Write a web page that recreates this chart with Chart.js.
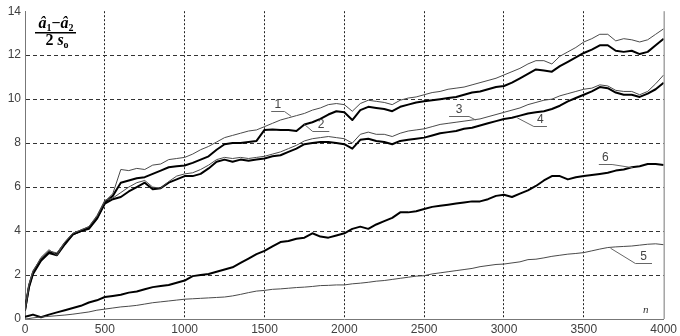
<!DOCTYPE html>
<html>
<head>
<meta charset="utf-8">
<script src="https://cdn.jsdelivr.net/npm/chart.js@4.4.1/dist/chart.umd.min.js"></script>
<style>
  html, body { margin: 0; padding: 0; background: #fff; }
  #plot { display: block; }
</style>
</head>
<body>
<canvas id="plot" width="680" height="336"></canvas>
<script>
// Sample positions along n (read every 50 steps off the reference)
const steps = [
  0, 25, 50, 100, 150, 200, 250, 300, 350, 400,
  450, 500, 550, 600, 650, 700, 750, 800, 850, 900,
  950, 1000, 1050, 1100, 1150, 1200, 1250, 1300, 1350, 1400,
  1450, 1500, 1550, 1600, 1650, 1700, 1750, 1800, 1850, 1900,
  1950, 2000, 2050, 2100, 2150, 2200, 2250, 2300, 2350, 2400,
  2450, 2500, 2550, 2600, 2650, 2700, 2750, 2800, 2850, 2900,
  2950, 3000, 3050, 3100, 3150, 3200, 3250, 3300, 3350, 3400,
  3450, 3500, 3550, 3600, 3650, 3700, 3750, 3800, 3850, 3900,
  3950, 4000
];

// Curve 1 (thin, top)
const curve1 = [
  0.4, 1.6, 2.2, 2.75, 3.1, 3.0, 3.5, 3.9, 4.05, 4.2,
  4.65, 5.35, 5.7, 6.8, 6.75, 6.85, 6.8, 7.0, 7.05, 7.25,
  7.3, 7.35, 7.5, 7.7, 7.85, 8.05, 8.25, 8.35, 8.45, 8.55,
  8.6, 8.75, 8.9, 9.05, 9.15, 9.25, 9.35, 9.5, 9.6, 9.75,
  9.8, 9.75, 9.45, 9.8, 9.95, 9.9, 9.85, 9.75, 9.95, 10.05,
  10.1, 10.2, 10.3, 10.35, 10.45, 10.5, 10.55, 10.65, 10.75, 10.85,
  10.95, 11.1, 11.25, 11.4, 11.6, 11.75, 11.75, 11.6, 11.95, 12.15,
  12.35, 12.6, 12.75, 12.95, 12.95, 12.65, 12.75, 12.7, 12.6, 12.7,
  12.95, 13.2
];

// Curve 2 (thick)
const curve2 = [
  0.4, 1.5, 2.1, 2.7, 3.05, 2.95, 3.45, 3.85, 4.0, 4.15,
  4.6, 5.3, 5.6, 6.2, 6.3, 6.4, 6.45, 6.6, 6.75, 6.9,
  6.95, 6.98, 7.1, 7.25, 7.4, 7.7, 7.95, 8.0, 8.0, 8.05,
  8.1, 8.6, 8.62, 8.6, 8.6, 8.55, 8.85, 8.95, 9.1, 9.3,
  9.45, 9.4, 9.05, 9.5, 9.65, 9.6, 9.55, 9.45, 9.65, 9.75,
  9.85, 9.9, 9.95, 10.0, 10.05, 10.1, 10.2, 10.3, 10.35, 10.45,
  10.55, 10.6, 10.75, 10.95, 11.15, 11.35, 11.3, 11.25, 11.5, 11.7,
  11.9, 12.1, 12.25, 12.45, 12.45, 12.2, 12.15, 12.2, 12.05, 12.15,
  12.45, 12.75
];

// Curve 3 (thin)
const curve3 = [
  0.4, 1.55, 2.15, 2.8, 3.15, 2.9, 3.5, 3.9, 4.05, 4.2,
  4.7, 5.4, 5.5, 5.75, 6.0, 6.2, 6.3, 6.0, 5.95, 6.25,
  6.5, 6.6, 6.65, 6.8, 7.0, 7.25, 7.35, 7.3, 7.35, 7.3,
  7.35, 7.4, 7.5, 7.6, 7.75, 7.9, 8.1, 8.2, 8.25, 8.3,
  8.25, 8.2, 8.0, 8.4, 8.5, 8.4, 8.4, 8.3, 8.45, 8.55,
  8.6, 8.65, 8.75, 8.85, 8.9, 8.95, 9.0, 9.05, 9.1, 9.2,
  9.3, 9.4, 9.5, 9.6, 9.75, 9.85, 9.95, 10.0, 10.15, 10.25,
  10.35, 10.45, 10.5, 10.65, 10.6, 10.4, 10.35, 10.35, 10.2, 10.35,
  10.7, 11.1
];

// Curve 4 (thick)
const curve4 = [
  0.4, 1.45, 2.05, 2.65, 3.0, 2.9, 3.4, 3.85, 4.0, 4.1,
  4.55, 5.25, 5.45, 5.55, 5.8, 6.0, 6.2, 5.9, 5.95, 6.2,
  6.35, 6.5, 6.5, 6.6, 6.85, 7.15, 7.25, 7.15, 7.25, 7.2,
  7.25, 7.3, 7.4, 7.45, 7.6, 7.75, 7.95, 8.0, 8.05, 8.05,
  8.0, 7.95, 7.75, 8.15, 8.2, 8.1, 8.05, 7.95, 8.1, 8.15,
  8.2, 8.25, 8.35, 8.45, 8.5, 8.55, 8.65, 8.7, 8.8, 8.9,
  9.0, 9.1, 9.15, 9.25, 9.35, 9.4, 9.45, 9.55, 9.7, 9.9,
  10.05, 10.2, 10.35, 10.55, 10.5, 10.3, 10.2, 10.2, 10.1, 10.25,
  10.45, 10.75
];

// Curve 5 (thin, bottom)
const curve5 = [
  0.0, 0.02, 0.05, 0.09, 0.12, 0.15, 0.18, 0.22, 0.27, 0.32,
  0.4, 0.45, 0.5, 0.55, 0.58, 0.62, 0.68, 0.74, 0.78, 0.82,
  0.86, 0.9, 0.92, 0.94, 0.96, 0.98, 1.0, 1.05, 1.12, 1.2,
  1.27, 1.3, 1.35, 1.37, 1.4, 1.43, 1.45, 1.48, 1.52, 1.53,
  1.55, 1.55, 1.6, 1.63, 1.67, 1.72, 1.75, 1.8, 1.85, 1.9,
  1.95, 1.97, 2.05, 2.1, 2.15, 2.2, 2.25, 2.3, 2.38, 2.43,
  2.48, 2.5, 2.55, 2.6, 2.7, 2.72, 2.78, 2.85, 2.9, 2.95,
  2.98, 3.02, 3.1, 3.18, 3.25, 3.28, 3.3, 3.32, 3.36, 3.4,
  3.42, 3.38
];

// Curve 6 (thick)
const curve6 = [
  0.1, 0.15, 0.2, 0.08, 0.2, 0.3, 0.4, 0.5, 0.6, 0.75,
  0.85, 1.0, 1.05, 1.1, 1.2, 1.25, 1.35, 1.45, 1.5, 1.55,
  1.65, 1.75, 1.95, 2.0, 2.05, 2.15, 2.25, 2.35, 2.55, 2.75,
  2.95, 3.1, 3.3, 3.5, 3.55, 3.65, 3.7, 3.9, 3.75, 3.7,
  3.8, 3.9, 4.1, 4.2, 4.1, 4.3, 4.45, 4.6, 4.85, 4.85,
  4.9, 5.0, 5.1, 5.15, 5.2, 5.25, 5.3, 5.35, 5.35, 5.45,
  5.6, 5.65, 5.55, 5.7, 5.85, 6.05, 6.3, 6.5, 6.5, 6.35,
  6.45, 6.5, 6.55, 6.6, 6.65, 6.75, 6.8, 6.9, 6.95, 7.05,
  7.05, 7.0
];

const xTicks = [0, 500, 1000, 1500, 2000, 2500, 3000, 3500, 4000];
const yTicks = [0, 2, 4, 6, 8, 10, 12, 14];

// Numbered callouts, in data units: underline from u1 to u2 at uy, leader to (px, py)
const callouts = [
  { text: '1', u1: 1542, u2: 1625, uy: 9.45, px: 1667, py: 9.22 },
  { text: '2', u1: 1802, u2: 1906, uy: 8.55, px: 1750, py: 8.85 },
  { text: '3', u1: 2656, u2: 2781, uy: 9.22, px: 2823, py: 9.05 },
  { text: '4', u1: 3187, u2: 3269, uy: 8.8,  px: 3083, py: 9.15 },
  { text: '6', u1: 3594, u2: 3677, uy: 7.03, px: 3806, py: 6.88 },
  { text: '5', u1: 3823, u2: 3927, uy: 2.54, px: 3667, py: 3.22 },
];

const toPoints = arr => steps.map((n, i) => ({ x: n, y: arr[i] }));

const THIN  = { borderColor: '#4a4a4a', borderWidth: 1 };
const THICK = { borderColor: '#000', borderWidth: 2 };

// Callout labels, axis title fraction and the "n" marker
const decorPlugin = {
  id: 'decor',
  afterDraw(chart) {
    const { ctx, chartArea: a, scales: { x, y } } = chart;
    ctx.save();

    // right frame edge
    ctx.strokeStyle = '#777';
    ctx.lineWidth = 1;
    ctx.beginPath();
    ctx.moveTo(a.right + 0.5, a.top);
    ctx.lineTo(a.right + 0.5, a.bottom);
    ctx.stroke();

    // callouts
    ctx.strokeStyle = '#666';
    ctx.fillStyle = '#444';
    ctx.font = '12px "Liberation Sans", Arial, sans-serif';
    ctx.textAlign = 'center';
    ctx.textBaseline = 'bottom';
    callouts.forEach(c => {
      const x1 = x.getPixelForValue(c.u1);
      const x2 = x.getPixelForValue(c.u2);
      const uy = Math.round(y.getPixelForValue(c.uy)) + 0.5;
      const px = x.getPixelForValue(c.px);
      const py = y.getPixelForValue(c.py);
      const ex = Math.abs(px - x1) < Math.abs(px - x2) ? x1 : x2;
      ctx.beginPath();
      ctx.moveTo(x1, uy);
      ctx.lineTo(x2, uy);
      ctx.moveTo(ex, uy);
      ctx.lineTo(px, py);
      ctx.stroke();
      ctx.fillText(c.text, (x1 + x2) / 2, uy - 1);
    });

    // "n" near the end of the x axis
    ctx.font = 'italic 11px "Liberation Serif", serif';
    ctx.fillStyle = '#333';
    ctx.fillText('n', a.right - 18, a.bottom - 3);

    // y quantity as a fraction
    ctx.fillStyle = '#000';
    ctx.textAlign = 'left';
    ctx.textBaseline = 'alphabetic';
    const big = 'bold 16px "Liberation Serif", serif';
    const bigIt = 'italic bold 16px "Liberation Serif", serif';
    const sub = 'bold 10px "Liberation Serif", serif';
    const cx = a.left + 31;
    drawRun(ctx, [
      { t: 'â', f: bigIt }, { t: '1', f: sub, dy: 3 },
      { t: '−', f: big }, { t: 'â', f: bigIt }, { t: '2', f: sub, dy: 3 },
    ], cx, a.top + 17);
    ctx.lineWidth = 1.5;
    ctx.strokeStyle = '#000';
    ctx.beginPath();
    ctx.moveTo(a.left + 10, a.top + 21.5);
    ctx.lineTo(a.left + 51, a.top + 21.5);
    ctx.stroke();
    drawRun(ctx, [
      { t: '2 ', f: big }, { t: 's', f: bigIt }, { t: 'o', f: sub, dy: 3 },
    ], cx + 1, a.top + 34);

    ctx.restore();
  }
};

function drawRun(ctx, parts, cx, baseline) {
  let w = 0;
  parts.forEach(p => { ctx.font = p.f; p.w = ctx.measureText(p.t).width; w += p.w; });
  let xx = cx - w / 2;
  parts.forEach(p => {
    ctx.font = p.f;
    ctx.fillText(p.t, xx, baseline + (p.dy || 0));
    xx += p.w;
  });
}

const tickFont = { family: '"Liberation Sans", Arial, sans-serif', size: 12 };

new Chart(document.getElementById('plot'), {
  type: 'line',
  data: {
    datasets: [
      { label: '5', data: toPoints(curve5), ...THIN },
      { label: '6', data: toPoints(curve6), ...THICK },
      { label: '3', data: toPoints(curve3), ...THIN },
      { label: '1', data: toPoints(curve1), ...THIN },
      { label: '4', data: toPoints(curve4), ...THICK },
      { label: '2', data: toPoints(curve2), ...THICK },
    ],
  },
  options: {
    responsive: false,
    animation: false,
    devicePixelRatio: 1,
    layout: { padding: { top: 7, right: 15, left: 0, bottom: 0 } },
    elements: { point: { radius: 0 }, line: { tension: 0, borderJoinStyle: 'round' } },
    plugins: { legend: { display: false }, tooltip: { enabled: false } },
    scales: {
      x: {
        type: 'linear',
        min: 0,
        max: 4000,
        afterBuildTicks: s => { s.ticks = xTicks.map(v => ({ value: v })); },
        afterFit: s => { s.height = 17; },
        ticks: {
          font: tickFont, color: '#404040', padding: 3, maxRotation: 0, autoSkip: false,
          callback: v => String(v),
        },
        grid: {
          drawTicks: false,
          lineWidth: 1,
          color: c => (c.tick && (c.tick.value === 0 || c.tick.value === 4000)) ? 'rgba(0,0,0,0)' : '#222',
        },
        border: { display: true, color: '#777', width: 1, dash: [2, 2] },
      },
      y: {
        min: 0,
        max: 14,
        afterBuildTicks: s => { s.ticks = yTicks.map(v => ({ value: v })); },
        afterFit: s => { s.width = 25; },
        ticks: { font: tickFont, color: '#404040', padding: 4, callback: v => String(v) },
        grid: {
          drawTicks: false,
          lineWidth: 1,
          color: c => (c.tick && (c.tick.value === 0 || c.tick.value === 14)) ? 'rgba(0,0,0,0)' : '#333',
        },
        border: { display: true, color: '#777', width: 1, dash: [4, 3] },
      },
    },
  },
  plugins: [decorPlugin],
});
</script>
</body>
</html>
